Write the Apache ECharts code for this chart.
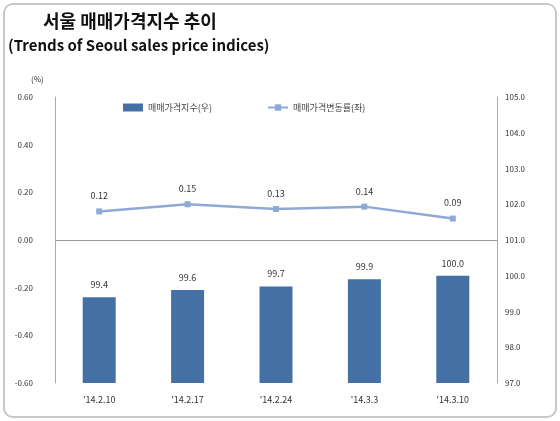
<!DOCTYPE html>
<html><head><meta charset="utf-8">
<script src="https://cdn.jsdelivr.net/npm/echarts@6/dist/echarts.min.js"></script>
<style>
body{margin:0;background:#fff}
#box{position:absolute;left:3px;top:3px;width:550px;height:411px;border:2px solid #c8c8c8;border-radius:10px}
#c{position:absolute;left:0;top:0;width:560px;height:421px}
</style></head><body>
<div id="box"></div>
<div id="c"></div>
<script>
var categories = ["'14.2.10", "'14.2.17", "'14.2.24", "'14.3.3", "'14.3.10"];
var indexValues = [99.4, 99.6, 99.7, 99.9, 100.0];
var changeRates = [0.12, 0.15, 0.13, 0.14, 0.09];

var chart = echarts.init(document.getElementById('c'));
var font = "'Noto Sans CJK KR', sans-serif";
var option = {
  animation: false,
  textStyle: {fontFamily: font},
  title: [
    {text: '서울 매매가격지수 추이', left: 38, top: 7, textStyle: {fontSize: 18, fontWeight: 'bold', color: '#111', fontFamily: font}},
    {text: '(Trends of Seoul sales price indices)', left: 3, top: 33, textStyle: {fontSize: 15, fontWeight: 'bold', color: '#111', fontFamily: font}},
    {text: '(%)', left: 26, top: 70, textStyle: {fontSize: 8, fontWeight: 'normal', color: '#333'}}
  ],
  legend: {
    top: 98, left: 118, itemGap: 55, itemWidth: 20, itemHeight: 8,
    textStyle: {fontSize: 9, color: '#444'},
    data: [{name: '매매가격지수(우)', icon: 'rect'}, {name: '매매가격변동률(좌)'}]
  },
  grid: {left: 55, right: 63, top: 97, bottom: 38},
  xAxis: {type: 'category', data: categories, position: 'bottom',
     axisLine: {show: false}, axisTick: {show: false},
     axisLabel: {fontSize: 9, color: '#333', margin: 12}},
  yAxis: [
    {type: 'value', min: -0.6, max: 0.6, interval: 0.2,
     axisLine: {show: true, lineStyle: {color: '#aaa'}}, axisTick: {show: false},
     splitLine: {show: false},
     axisLabel: {fontSize: 8, color: '#333', margin: 22, formatter: function (v) { return v.toFixed(2); }}},
    {type: 'value', min: 97, max: 105, interval: 1,
     axisLine: {show: true, lineStyle: {color: '#aaa'}}, axisTick: {show: false},
     splitLine: {show: false},
     axisLabel: {fontSize: 8, color: '#333', margin: 8, formatter: function (v) { return v.toFixed(1); }}}
  ],
  series: [
    {name: '매매가격지수(우)', type: 'bar', data: indexValues, yAxisIndex: 1,
     barWidth: 33, itemStyle: {color: '#4470a6'},
     label: {show: true, position: 'top', fontSize: 9, color: '#333', distance: 8,
             formatter: function (p) { return p.value.toFixed(1); }}},
    {name: '매매가격변동률(좌)', type: 'line', data: changeRates, yAxisIndex: 0,
     symbol: 'rect', symbolSize: 6,
     lineStyle: {color: '#8ea9d6', width: 2.5}, itemStyle: {color: '#8ea9d6'},
     label: {show: true, position: 'top', fontSize: 9, color: '#333', distance: 8,
             formatter: function (p) { return p.value.toFixed(2); }},
     markLine: {silent: true, symbol: 'none', label: {show: false},
                lineStyle: {color: '#999', type: 'solid', width: 1},
                data: [{yAxis: 0}]}}
  ]
};
chart.setOption(option);
</script>
</body></html>
